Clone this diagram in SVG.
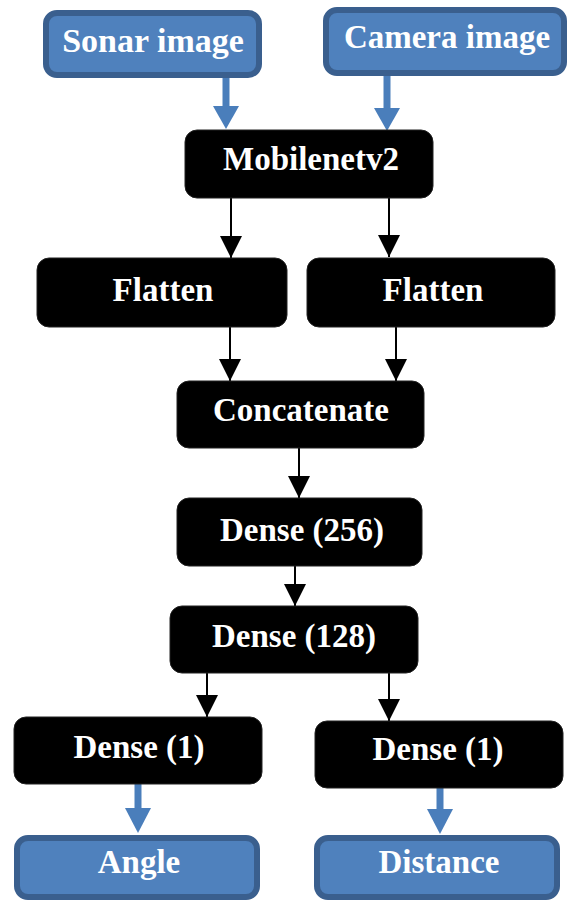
<svg xmlns="http://www.w3.org/2000/svg" width="572" height="901" viewBox="0 0 572 901">
<defs>
<style>
.blk{fill:#000;stroke:#222;stroke-width:1}
.blu{fill:#4f81bd;stroke:#3a5f8e;stroke-width:6}
.t{font-family:"Liberation Serif","Times New Roman",serif;font-weight:bold;font-size:33px;fill:#fff;text-anchor:middle}
.bl{stroke:#000;stroke-width:2;fill:none}
.bb{stroke:#4a7ebb;stroke-width:7;fill:none}
</style>
<marker id="ah" viewBox="0 0 22 22" refX="22" refY="11" markerWidth="22" markerHeight="22" markerUnits="userSpaceOnUse" orient="auto">
<path d="M0,0 L22,11 L0,22 Z" fill="#000"/>
</marker>
</defs>
<g id="connectors">
<line class="bb" x1="226" y1="78" x2="226" y2="106"/>
<path d="M213,106 L239,106 L226,129 Z" fill="#4a7ebb"/>
<line class="bb" x1="387" y1="76" x2="387" y2="108"/>
<path d="M374,108 L400,108 L387,131 Z" fill="#4a7ebb"/>
<line class="bl" x1="231" y1="198" x2="231" y2="258" marker-end="url(#ah)"/>
<line class="bl" x1="389" y1="198" x2="389" y2="257" marker-end="url(#ah)"/>
<line class="bl" x1="230" y1="327" x2="230" y2="381" marker-end="url(#ah)"/>
<line class="bl" x1="396" y1="327" x2="396" y2="381" marker-end="url(#ah)"/>
<line class="bl" x1="299" y1="448" x2="299" y2="498" marker-end="url(#ah)"/>
<line class="bl" x1="295" y1="566" x2="295" y2="606" marker-end="url(#ah)"/>
<line class="bl" x1="207" y1="673" x2="207" y2="717" marker-end="url(#ah)"/>
<line class="bl" x1="389" y1="673" x2="389" y2="721" marker-end="url(#ah)"/>
<line class="bb" x1="138" y1="784" x2="138" y2="808"/>
<path d="M125,808 L151,808 L138,833 Z" fill="#4a7ebb"/>
<line class="bb" x1="440" y1="788" x2="440" y2="809"/>
<path d="M427,809 L453,809 L440,834 Z" fill="#4a7ebb"/>
</g>
<g id="sonar"><rect class="blu" x="46" y="13" width="213" height="62" rx="11"/><text class="t" x="153" y="52" style="font-size:34px">Sonar image</text></g>
<g id="camera"><rect class="blu" x="326" y="10" width="238" height="63" rx="11"/><text class="t" x="447" y="48">Camera image</text></g>
<g id="mobilenet"><rect class="blk" x="185" y="130" width="248" height="68" rx="12"/><text class="t" x="311" y="170">Mobilenetv2</text></g>
<g id="flattenL"><rect class="blk" x="37" y="258" width="250" height="69" rx="12"/><text class="t" x="163" y="301">Flatten</text></g>
<g id="flattenR"><rect class="blk" x="307" y="258" width="248" height="69" rx="12"/><text class="t" x="433" y="301">Flatten</text></g>
<g id="concat"><rect class="blk" x="177" y="381" width="247" height="67" rx="12"/><text class="t" x="301" y="421">Concatenate</text></g>
<g id="dense256"><rect class="blk" x="177" y="498" width="245" height="68" rx="12"/><text class="t" x="302" y="541">Dense (256)</text></g>
<g id="dense128"><rect class="blk" x="170" y="606" width="248" height="67" rx="12"/><text class="t" x="294" y="647">Dense (128)</text></g>
<g id="dense1L"><rect class="blk" x="14" y="717" width="248" height="67" rx="12"/><text class="t" x="139" y="758">Dense (1)</text></g>
<g id="dense1R"><rect class="blk" x="315" y="721" width="248" height="67" rx="12"/><text class="t" x="438" y="760">Dense (1)</text></g>
<g id="angle"><rect class="blu" x="17" y="838" width="240" height="59" rx="11"/><text class="t" x="139" y="873">Angle</text></g>
<g id="distance"><rect class="blu" x="317" y="838" width="240" height="59" rx="11"/><text class="t" x="439" y="873">Distance</text></g>
</svg>
